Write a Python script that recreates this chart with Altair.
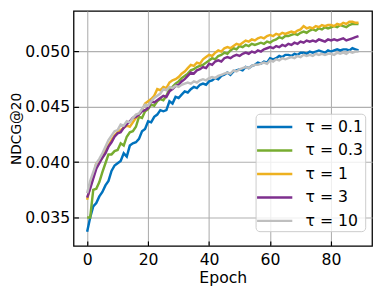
import altair as alt
import pandas as pd

epochs = list(range(90))

tau_labels = ["τ = 0.1", "τ = 0.3", "τ = 1", "τ = 3", "τ = 10"]
colors = ["#0072BD", "#77AC30", "#EDB120", "#7E2F8E", "#BFBFBF"]

ndcg_tau_0_1 = [
    0.0337, 0.0350, 0.0360, 0.0363, 0.0369, 0.0373, 0.0379, 0.0383, 0.0392, 0.0397,
    0.0399, 0.0401, 0.0408, 0.0405, 0.0415, 0.0417, 0.0418, 0.0421, 0.0428, 0.0430,
    0.0437, 0.0436, 0.0441, 0.0443, 0.0447, 0.0446, 0.0447, 0.0455, 0.0453, 0.0459,
    0.0458, 0.0461, 0.0464, 0.0463, 0.0466, 0.0468, 0.0467, 0.0470, 0.0471, 0.0470,
    0.0473, 0.0474, 0.0476, 0.0475, 0.0478, 0.0479, 0.0481, 0.0479, 0.0482, 0.0483,
    0.0484, 0.0483, 0.0486, 0.0485, 0.0487, 0.0488, 0.0490, 0.0489, 0.0491, 0.0490,
    0.0494, 0.0493, 0.0494, 0.0496, 0.0495, 0.0497, 0.0497, 0.0496, 0.0498, 0.0497,
    0.0499, 0.0499, 0.0498, 0.0500, 0.0499, 0.0500, 0.0501, 0.0500, 0.0499, 0.0501,
    0.0500, 0.0501, 0.0502, 0.0501, 0.0502, 0.0502, 0.0501, 0.0503, 0.0502, 0.0501,
]

ndcg_tau_0_3 = [
    0.0350, 0.0350, 0.0375, 0.0376, 0.0382, 0.0391, 0.0399, 0.0407, 0.0407, 0.0410,
    0.0411, 0.0417, 0.0415, 0.0423, 0.0427, 0.0428, 0.0432, 0.0441, 0.0440, 0.0446,
    0.0448, 0.0452, 0.0451, 0.0455, 0.0457, 0.0456, 0.0460, 0.0466, 0.0468, 0.0471,
    0.0473, 0.0476, 0.0478, 0.0480, 0.0483, 0.0484, 0.0486, 0.0487, 0.0488, 0.0490,
    0.0492, 0.0494, 0.0493, 0.0496, 0.0497, 0.0499, 0.0498, 0.0501, 0.0503, 0.0502,
    0.0505, 0.0504, 0.0506, 0.0505, 0.0507, 0.0506, 0.0507, 0.0508, 0.0507, 0.0509,
    0.0508, 0.0510, 0.0511, 0.0513, 0.0512, 0.0514, 0.0514, 0.0515, 0.0516, 0.0515,
    0.0517, 0.0518, 0.0517, 0.0519, 0.0520, 0.0519, 0.0521, 0.0520, 0.0522, 0.0521,
    0.0522, 0.0523, 0.0522, 0.0524, 0.0523, 0.0522, 0.0524, 0.0525, 0.0525, 0.0525,
]

ndcg_tau_1 = [
    0.0366, 0.0378, 0.0387, 0.0399, 0.0400, 0.0404, 0.0410, 0.0415, 0.0420, 0.0424,
    0.0427, 0.0429, 0.0431, 0.0433, 0.0432, 0.0436, 0.0440, 0.0443, 0.0447, 0.0453,
    0.0455, 0.0457, 0.0460, 0.0466, 0.0465, 0.0468, 0.0467, 0.0472, 0.0474, 0.0475,
    0.0477, 0.0480, 0.0482, 0.0485, 0.0488, 0.0487, 0.0490, 0.0489, 0.0493, 0.0495,
    0.0497, 0.0496, 0.0499, 0.0501, 0.0500, 0.0503, 0.0504, 0.0503, 0.0505, 0.0507,
    0.0506, 0.0508, 0.0510, 0.0509, 0.0511, 0.0510, 0.0512, 0.0513, 0.0512, 0.0514,
    0.0515, 0.0514, 0.0516, 0.0515, 0.0517, 0.0516, 0.0517, 0.0518, 0.0517, 0.0519,
    0.0520, 0.0523, 0.0521, 0.0522, 0.0521, 0.0523, 0.0522, 0.0524, 0.0523, 0.0524,
    0.0524, 0.0523, 0.0525, 0.0524, 0.0526, 0.0525, 0.0527, 0.0527, 0.0526, 0.0526,
]

ndcg_tau_3 = [
    0.0368, 0.0376, 0.0385, 0.0394, 0.0399, 0.0404, 0.0408, 0.0414, 0.0418, 0.0423,
    0.0426, 0.0427, 0.0431, 0.0434, 0.0437, 0.0440, 0.0441, 0.0443, 0.0446, 0.0447,
    0.0449, 0.0455, 0.0454, 0.0456, 0.0458, 0.0460, 0.0459, 0.0464, 0.0466, 0.0469,
    0.0470, 0.0473, 0.0475, 0.0478, 0.0481, 0.0480, 0.0483, 0.0484, 0.0486, 0.0485,
    0.0489, 0.0488, 0.0491, 0.0492, 0.0491, 0.0494, 0.0495, 0.0494, 0.0496, 0.0497,
    0.0496, 0.0498, 0.0499, 0.0498, 0.0500, 0.0499, 0.0501, 0.0500, 0.0502, 0.0503,
    0.0504, 0.0503, 0.0505, 0.0504, 0.0506, 0.0505, 0.0507, 0.0506, 0.0508, 0.0507,
    0.0509, 0.0508, 0.0510, 0.0509, 0.0510, 0.0509, 0.0511, 0.0510, 0.0509, 0.0511,
    0.0510, 0.0511, 0.0510, 0.0511, 0.0512, 0.0510, 0.0511, 0.0512, 0.0513, 0.0514,
]

ndcg_tau_10 = [
    0.0372, 0.0383, 0.0391, 0.0399, 0.0403, 0.0408, 0.0414, 0.0420, 0.0424, 0.0428,
    0.0429, 0.0434, 0.0433, 0.0437, 0.0436, 0.0440, 0.0443, 0.0444, 0.0448, 0.0452,
    0.0451, 0.0455, 0.0458, 0.0460, 0.0462, 0.0466, 0.0465, 0.0468, 0.0467, 0.0469,
    0.0468, 0.0470, 0.0471, 0.0472, 0.0471, 0.0473, 0.0472, 0.0474, 0.0475, 0.0474,
    0.0476, 0.0477, 0.0476, 0.0478, 0.0479, 0.0480, 0.0481, 0.0480, 0.0483, 0.0482,
    0.0484, 0.0485, 0.0486, 0.0485, 0.0487, 0.0488, 0.0488, 0.0489, 0.0490, 0.0489,
    0.0492, 0.0491, 0.0493, 0.0492, 0.0494, 0.0493, 0.0494, 0.0495, 0.0494, 0.0496,
    0.0495, 0.0497, 0.0496, 0.0497, 0.0496, 0.0498, 0.0497, 0.0498, 0.0497, 0.0498,
    0.0498, 0.0497, 0.0499, 0.0498, 0.0499, 0.0498, 0.0500, 0.0499, 0.0500, 0.0500,
]

x_ticks = [0, 20, 40, 60, 80]
y_ticks = [0.035, 0.040, 0.045, 0.050]

series = [ndcg_tau_0_1, ndcg_tau_0_3, ndcg_tau_1, ndcg_tau_3, ndcg_tau_10]
rows = []
for i, (lab, vals) in enumerate(zip(tau_labels, series)):
    for e, v in zip(epochs, vals):
        rows.append({"epoch": e, "ndcg": v, "tau": lab, "order": i})
df = pd.DataFrame(rows)

W, H = 305, 240
FONT = "DejaVu Sans"

x_scale = alt.Scale(domain=[-4.45, 93.45], nice=False, zero=False)
y_scale = alt.Scale(domain=[0.03243, 0.05367], nice=False, zero=False)

lines = alt.Chart(df).mark_line(strokeWidth=2.5, clip=True).encode(
    x=alt.X("epoch:Q", scale=x_scale,
            axis=alt.Axis(values=x_ticks, title="Epoch", ticks=False, tickSize=0,
                          labelPadding=6, titlePadding=2, domain=False,
                          grid=True, gridColor="#b0b0b0", gridWidth=1.1,
                          labelFontSize=16, titleFontSize=16, labelFont=FONT,
                          titleFont=FONT, titleFontWeight="normal",
                          labelColor="black", titleColor="black")),
    y=alt.Y("ndcg:Q", scale=y_scale,
            axis=alt.Axis(values=y_ticks, format=".3f", title="NDCG@20",
                          ticks=False, tickSize=0, labelPadding=4, titlePadding=1,
                          domain=False, grid=True, gridColor="#b0b0b0", gridWidth=1.1,
                          labelFontSize=16, titleFontSize=14, labelFont=FONT,
                          titleFont=FONT, titleFontWeight="normal",
                          labelColor="black", titleColor="black")),
    color=alt.Color("tau:N",
                    scale=alt.Scale(domain=tau_labels, range=colors),
                    legend=alt.Legend(title=None, orient="none", legendX=186, legendY=105,
                                      symbolType="M-1.8,0H1.8", symbolSize=400,
                                      symbolStrokeWidth=2.5, symbolOffset=6,
                                      labelOffset=20, labelFontSize=16, labelFont=FONT,
                                      labelColor="black", labelLimit=200,
                                      rowPadding=4, padding=2,
                                      fillColor="rgba(255,255,255,0.8)",
                                      strokeColor="#cccccc", cornerRadius=4)),
    order=alt.Order("order:Q"),
)

ticks_layer = alt.Chart(df).mark_line(opacity=0).encode(
    x=alt.X("epoch:Q", scale=x_scale,
            axis=alt.Axis(values=x_ticks, orient="top", offset=-H, labels=False,
                          ticks=True, tickSize=5, tickColor="black", tickWidth=1.2,
                          domain=False, grid=False, title=None)),
    y=alt.Y("ndcg:Q", scale=y_scale,
            axis=alt.Axis(values=y_ticks, orient="right", offset=-W, labels=False,
                          ticks=True, tickSize=5, tickColor="black", tickWidth=1.2,
                          domain=False, grid=False, title=None)),
)

chart = alt.layer(lines, ticks_layer).resolve_axis(
    x="independent", y="independent"
).properties(
    width=W, height=H,
    autosize=alt.AutoSizeParams(type="none"),
    padding={"left": 67, "top": 0, "right": 3, "bottom": 39},
    background="white",
).configure_view(stroke="black", strokeWidth=1.3)

chart.save("out.html", embed_options={"renderer": "svg", "actions": False})
